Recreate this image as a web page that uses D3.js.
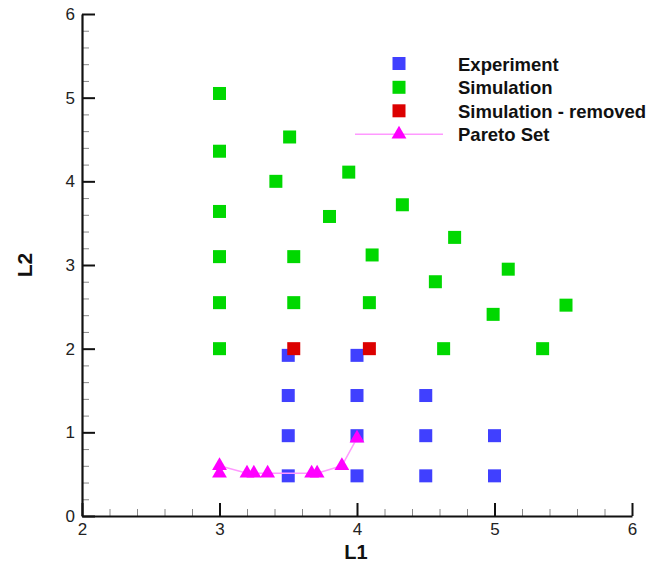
<!DOCTYPE html>
<html>
<head>
<meta charset="utf-8">
<script src="https://cdn.jsdelivr.net/npm/d3@7/dist/d3.min.js"></script>
<style>
  html, body { margin: 0; padding: 0; background: #ffffff; }
  svg { display: block; }
  text { font-family: "Liberation Sans", Arial, Helvetica, sans-serif; }
</style>
</head>
<body>
<svg id="chart" width="662" height="563"></svg>
<script>
// ---- data ----
const experimentL1 = [3.5, 3.5, 3.5, 3.5, 4.0, 4.0, 4.0, 4.0, 4.5, 4.5, 4.5, 5.0, 5.0];
const experimentL2 = [1.92, 1.44, 0.96, 0.48, 1.92, 1.44, 0.96, 0.48, 1.44, 0.96, 0.48, 0.96, 0.48];

const simulationL1 = [3.0, 3.0, 3.0, 3.0, 3.0, 3.0, 3.51, 3.41, 3.54, 3.54, 3.80, 3.94, 4.11, 4.09, 4.33, 4.63, 4.57, 4.71, 4.99, 5.10, 5.35, 5.52];
const simulationL2 = [5.05, 4.36, 3.64, 3.10, 2.55, 2.00, 4.53, 4.00, 3.10, 2.55, 3.58, 4.11, 3.12, 2.55, 3.72, 2.00, 2.80, 3.33, 2.41, 2.95, 2.00, 2.52];

const removedL1 = [3.54, 4.09];
const removedL2 = [2.00, 2.00];

const paretoL1 = [3.0, 3.0, 3.2, 3.25, 3.35, 3.67, 3.71, 3.89, 4.0];
const paretoL2 = [0.51, 0.60, 0.51, 0.51, 0.51, 0.51, 0.51, 0.60, 0.93];

const xTicks = [2, 3, 4, 5, 6];
const yTicks = [0, 1, 2, 3, 4, 5, 6];
const legendLabels = ["Experiment", "Simulation", "Simulation - removed", "Pareto Set"];

// ---- layout ----
const svg = d3.select("#chart");
const x = d3.scaleLinear().domain([2, 6]).range([82, 632]);
const y = d3.scaleLinear().domain([0, 6]).range([516, 14]);

const colBlue = "#4040ff", colGreen = "#00d800", colRed = "#dc0000", colMag = "#ff00ff", colLine = "#ff99ff";
const sq = 13;

// minor ticks
const xMinor = d3.range(2, 6.0001, 0.2).filter(v => Math.abs(v - Math.round(v)) > 1e-6);
const yMinor = d3.range(0, 6.0001, 0.2).filter(v => Math.abs(v - Math.round(v)) > 1e-6);

const gxMinor = svg.append("g").attr("transform", "translate(0,516)")
  .call(d3.axisBottom(x).tickValues(xMinor).tickSize(-7).tickSizeOuter(0).tickFormat(""));
gxMinor.select(".domain").remove();
gxMinor.selectAll("line").attr("stroke", "#888").attr("stroke-width", 1);

const gyMinor = svg.append("g").attr("transform", "translate(82,0)")
  .call(d3.axisLeft(y).tickValues(yMinor).tickSize(-7).tickSizeOuter(0).tickFormat(""));
gyMinor.select(".domain").remove();
gyMinor.selectAll("line").attr("stroke", "#888").attr("stroke-width", 1);

// major axes
const gx = svg.append("g").attr("transform", "translate(0,516)")
  .call(d3.axisBottom(x).tickValues(xTicks).tickSize(-13).tickSizeOuter(0).tickPadding(7).tickFormat(d3.format("d")));
gx.select(".domain").attr("stroke", "#111").attr("stroke-width", 2.2);
gx.selectAll(".tick line").attr("stroke", "#111").attr("stroke-width", 2);
gx.selectAll(".tick text").attr("font-size", 17).attr("fill", "#222")
  .attr("font-family", "'Liberation Sans', Arial, sans-serif");

const gy = svg.append("g").attr("transform", "translate(82,0)")
  .call(d3.axisLeft(y).tickValues(yTicks).tickSize(-13).tickSizeOuter(0).tickPadding(7).tickFormat(d3.format("d")));
gy.select(".domain").attr("stroke", "#111").attr("stroke-width", 2.2);
gy.selectAll(".tick line").attr("stroke", "#111").attr("stroke-width", 2);
gy.selectAll(".tick text").attr("font-size", 17).attr("fill", "#222")
  .attr("font-family", "'Liberation Sans', Arial, sans-serif");

// axis titles
svg.append("text").attr("x", 356).attr("y", 559).attr("text-anchor", "middle")
  .attr("font-size", 20).attr("font-weight", "bold").attr("fill", "#111").text("L1");
svg.append("text").attr("transform", "translate(32,265) rotate(-90)").attr("text-anchor", "middle")
  .attr("font-size", 21).attr("font-weight", "bold").attr("fill", "#111").text("L2");

// ---- marks ----
function squares(xs, ys, color) {
  svg.append("g").selectAll("rect").data(xs.map((v, i) => [v, ys[i]])).join("rect")
    .attr("x", d => x(d[0]) - sq / 2).attr("y", d => y(d[1]) - sq / 2)
    .attr("width", sq).attr("height", sq).attr("fill", color);
}
squares(experimentL1, experimentL2, colBlue);
squares(simulationL1, simulationL2, colGreen);
squares(removedL1, removedL2, colRed);

const pareto = paretoL1.map((v, i) => [v, paretoL2[i]]);
svg.append("path").datum(pareto)
  .attr("d", d3.line().x(d => x(d[0])).y(d => y(d[1])))
  .attr("fill", "none").attr("stroke", colLine).attr("stroke-width", 1.5);
const tri = d3.symbol().type(d3.symbolTriangle).size(95);
svg.append("g").selectAll("path").data(pareto).join("path")
  .attr("transform", d => `translate(${x(d[0])},${y(d[1])})`)
  .attr("d", tri).attr("fill", colMag);

// ---- legend ----
const lg = svg.append("g");
const rowY = [63.5, 87.3, 110.8, 134.3];
const symX = 399, textX = 458;
const legColors = [colBlue, colGreen, colRed];
legColors.forEach((c, i) => {
  lg.append("rect").attr("x", symX - sq / 2).attr("y", rowY[i] - sq / 2)
    .attr("width", sq).attr("height", sq).attr("fill", c);
});
lg.append("line").attr("x1", 355).attr("x2", 443).attr("y1", rowY[3]).attr("y2", rowY[3])
  .attr("stroke", colLine).attr("stroke-width", 1.5);
lg.append("path").attr("transform", `translate(${symX},${rowY[3]})`).attr("d", tri).attr("fill", colMag);
legendLabels.forEach((t, i) => {
  lg.append("text").attr("x", textX).attr("y", rowY[i] + 7)
    .attr("font-size", 18.5).attr("font-weight", "bold").attr("fill", "#111").text(t);
});
</script>
</body>
</html>
